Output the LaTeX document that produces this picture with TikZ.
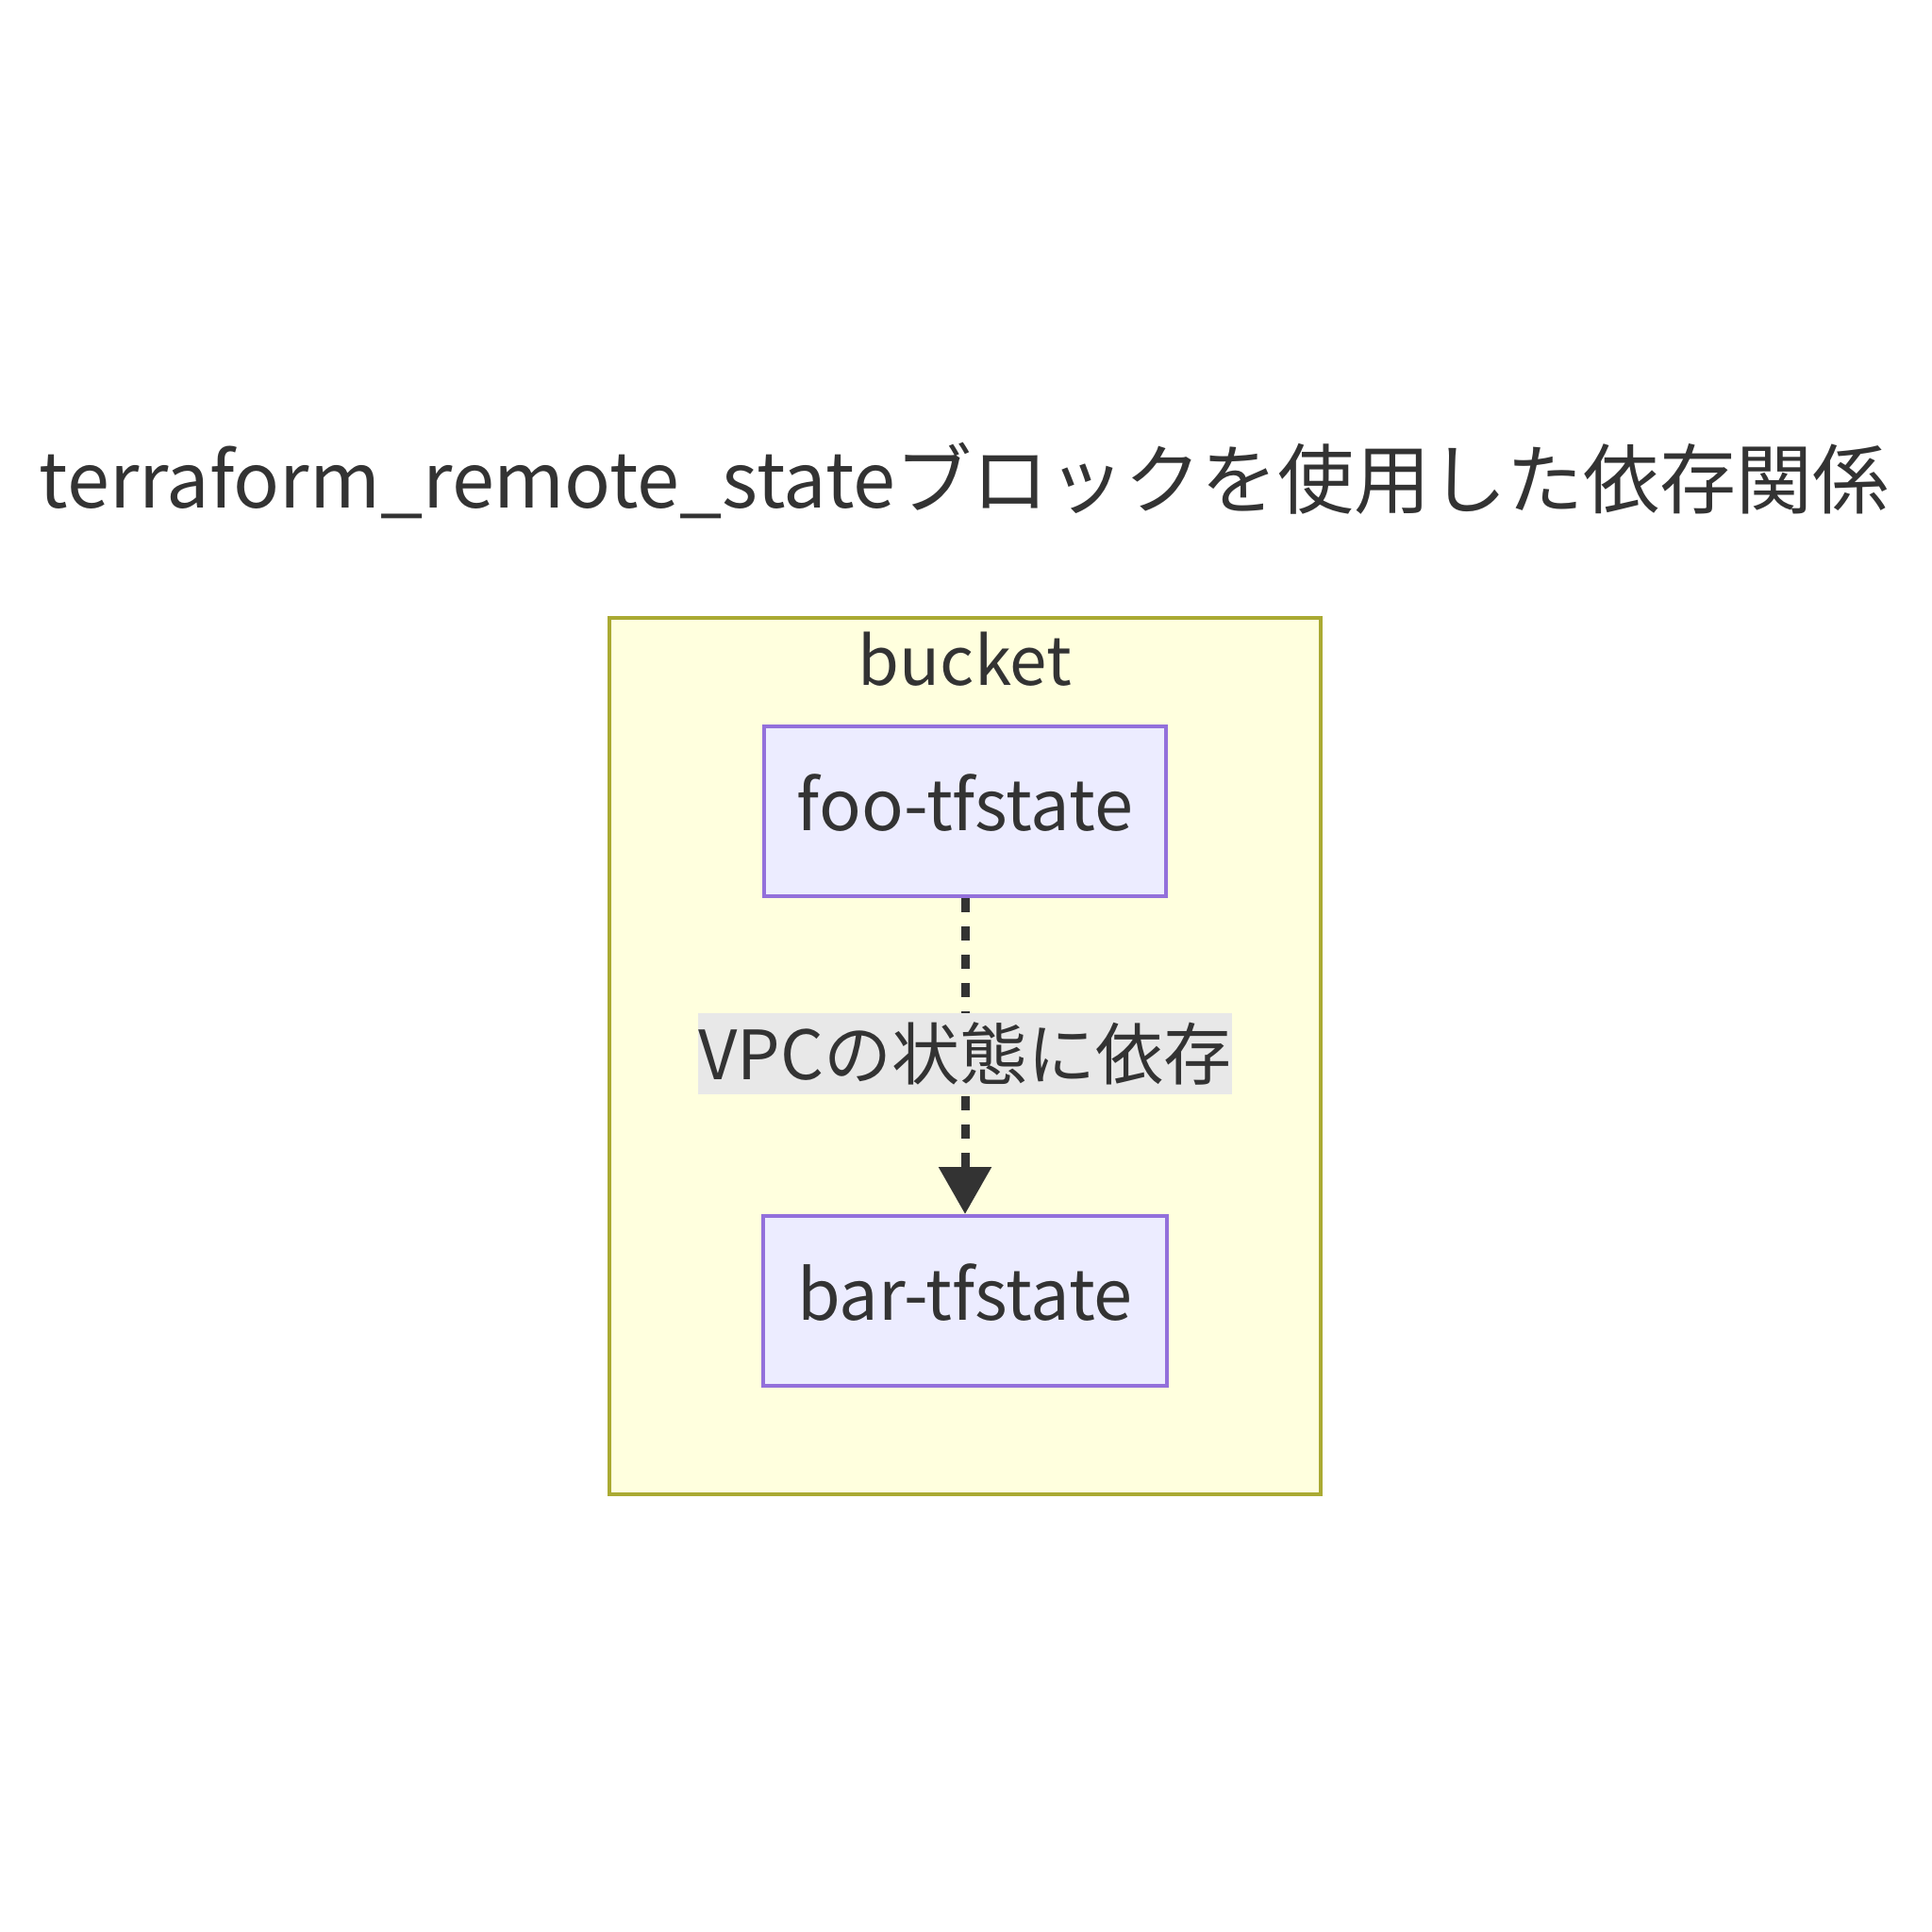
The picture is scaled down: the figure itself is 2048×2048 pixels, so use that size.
\documentclass[tikz,border=0pt]{standalone}
\usepackage{fontspec}
\setmainfont{Noto Sans CJK JP}
\usetikzlibrary{arrows.meta}
\definecolor{txt}{HTML}{333333}
\definecolor{bucketfill}{HTML}{FFFFDE}
\definecolor{bucketline}{HTML}{AAAA33}
\definecolor{nodefill}{HTML}{ECECFF}
\definecolor{nodeline}{HTML}{9370DB}
\definecolor{lblfill}{HTML}{E8E8E8}
\tikzset{
  statebox/.style={draw=nodeline, fill=nodefill, line width=4pt, minimum width=426pt, minimum height=180pt, inner sep=0pt, text=txt, font=\fontsize{74}{88}\selectfont},
  depline/.style={draw=txt, line width=9pt, dash pattern=on 15pt off 15pt, -{Triangle[length=50pt,width=54pt]}},
  edgelbl/.style={fill=lblfill, inner xsep=1pt, inner ysep=0pt, minimum height=86pt, text=txt, font=\fontsize{72}{86}\selectfont},
}
\begin{document}
\begin{tikzpicture}[x=1pt,y=-1pt]
\useasboundingbox (0,0) rectangle (2048,2048);
\node[text=txt, font=\fontsize{81}{96}\selectfont] (title) at (1022,509) {terraform\_remote\_stateブロックを使用した依存関係};
\draw[draw=bucketline, fill=bucketfill, line width=4pt] (646,655) rectangle (1400,1584);
\node[text=txt, font=\fontsize{71}{84}\selectfont] (bucket) at (1023,699) {bucket};
\node[statebox] (foo) at (1023,860) {\raisebox{18pt}{foo-tfstate}};
\node[statebox, minimum width=428pt] (bar) at (1023,1379) {\raisebox{18pt}{bar-tfstate}};
\draw[depline] (foo.south) -- (bar.north);
\node[edgelbl] (lbl) at (1023,1117) {VPCの状態に依存};
\end{tikzpicture}
\end{document}
